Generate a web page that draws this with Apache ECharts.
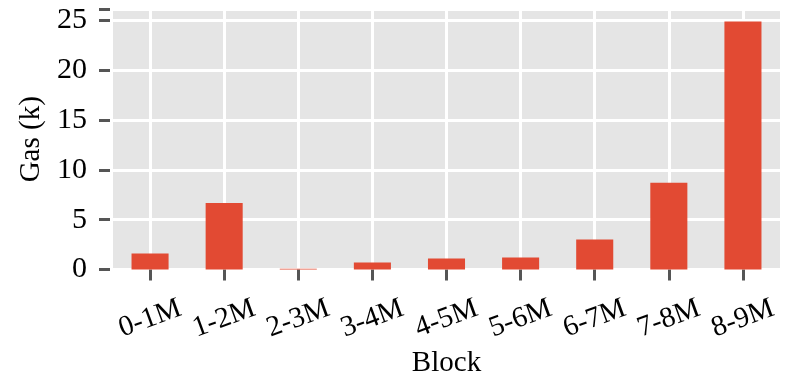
<!DOCTYPE html>
<html>
<head>
<meta charset="utf-8">
<script src="https://cdn.jsdelivr.net/npm/echarts@6/dist/echarts.min.js"></script>
<style>html,body{margin:0;padding:0;background:#fff}#c{width:789px;height:375px}</style>
</head>
<body>
<div id="c"></div>
<script>
const categories = ['0-1M','1-2M','2-3M','3-4M','4-5M','5-6M','6-7M','7-8M','8-9M'];
const gasValues = [1.6, 6.67, 0.08, 0.7, 1.1, 1.2, 3.0, 8.7, 24.9];
const yTicks = [0, 5, 10, 15, 20, 25];

const FONT = '"Liberation Serif", "DejaVu Serif", serif';
const gridPoints = [];
for (let i = 0; i <= categories.length * 2; i++) gridPoints.push(String(i));

const chart = echarts.init(document.getElementById('c'), null, {renderer: 'canvas'});
chart.setOption({
  animation: false,
  backgroundColor: '#ffffff',
  grid: {left: 113, right: 9, top: 9, bottom: 105.5, show: true, backgroundColor: '#E5E5E5', borderWidth: 0, containLabel: false, outerBoundsMode: 'none'},
  xAxis: [{
    type: 'category',
    data: categories,
    offset: 3,
    name: 'Block',
    nameLocation: 'middle',
    nameGap: 88,
    nameTextStyle: {fontFamily: FONT, fontSize: 29, color: '#000', verticalAlign: 'middle'},
    axisLine: {show: false},
    axisTick: {show: true, alignWithLabel: true, length: 11, lineStyle: {color: '#555555', width: 3}},
    axisLabel: {interval: 0, rotate: 20, align: 'center', verticalAlign: 'middle', margin: 46, fontFamily: FONT, fontSize: 29, color: '#000', hideOverlap: false},
    splitLine: {show: false}
  }, {
    type: 'category',
    data: gridPoints,
    boundaryGap: false,
    position: 'bottom',
    axisLine: {show: false},
    axisTick: {show: false},
    axisLabel: {show: false},
    splitLine: {show: true, interval: (idx) => idx % 2 === 1, lineStyle: {color: '#ffffff', width: 3}}
  }],
  yAxis: {
    type: 'value',
    min: 0,
    max: 26.15,
    interval: 5,
    offset: 3,
    name: 'Gas (k)',
    nameLocation: 'middle',
    nameGap: 79,
    nameTextStyle: {fontFamily: FONT, fontSize: 29, color: '#000', verticalAlign: 'middle'},
    axisLine: {show: false},
    axisTick: {show: true, length: 11, lineStyle: {color: '#555555', width: 3}},
    axisLabel: {
      margin: 23, fontFamily: FONT, fontSize: 30, color: '#000',
      formatter: (v) => (yTicks.indexOf(v) >= 0 ? String(v) : '')
    },
    splitLine: {show: true, lineStyle: {color: '#ffffff', width: 3}}
  },
  series: [{
    type: 'bar',
    xAxisIndex: 0,
    data: gasValues,
    barWidth: '50%',
    itemStyle: {color: '#E24A33'}
  }]
});
</script>
</body>
</html>
